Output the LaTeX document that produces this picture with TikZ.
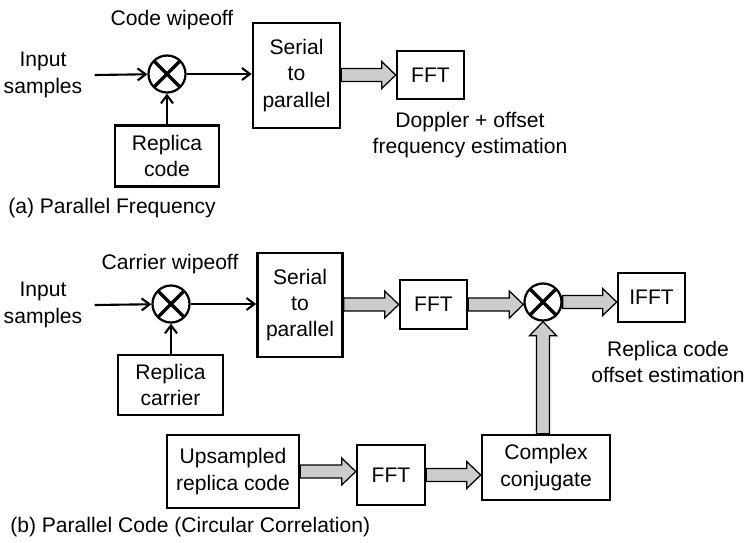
\documentclass[tikz,border=0pt]{standalone}
\usepackage{fontspec}
\setmainfont{Liberation Sans}
\usetikzlibrary{arrows.meta,calc}
\definecolor{fatgray}{RGB}{204,204,204}

\tikzset{
  fat/.style={draw, line width=0.9pt, fill=fatgray, line join=miter,
    to path={let \p1=(\tikztostart), \p2=(\tikztotarget),
      \n1={veclen(\x2-\x1,\y2-\y1)}, \n2={(\x2-\x1)/\n1}, \n3={(\y2-\y1)/\n1} in
      ({\x1-4.6*\n3},{\y1+4.6*\n2}) -- ({\x2-10*\n2-4.6*\n3},{\y2-10*\n3+4.6*\n2})
      -- ({\x2-10*\n2-9.6*\n3},{\y2-10*\n3+9.6*\n2}) -- (\p2)
      -- ({\x2-10*\n2+9.6*\n3},{\y2-10*\n3-9.6*\n2})
      -- ({\x2-10*\n2+4.6*\n3},{\y2-10*\n3-4.6*\n2})
      -- ({\x1+4.6*\n3},{\y1-4.6*\n2}) -- cycle}}
}

\begin{document}
\begin{tikzpicture}[x=0.025cm, y=-0.025cm,
   font=\fontsize{15}{18.8}\selectfont,
   blk/.style={draw, line width=1.8pt, align=center, inner sep=0pt},
   mix/.style={circle, draw, line width=1.6pt, minimum size=0.925cm, inner sep=0pt,
     path picture={\draw[line width=2.4pt]
       (path picture bounding box.north west) -- (path picture bounding box.south east)
       (path picture bounding box.north east) -- (path picture bounding box.south west);}},
   sig/.style={line width=1.5pt, -{Straight Barb[length=2mm, width=3mm]}},
   lbl/.style={align=center, inner sep=0pt}]
\useasboundingbox (0,0) rectangle (747,542);
% (a) parallel frequency search
\node[lbl] (cw) at (172,20) {Code wipeoff};
\node[lbl, inner xsep=0.3cm] (in1) at (43,75) {Input\\samples};
\node[mix] (mx1) at (167,74) {};
\node[blk, minimum width=2.6cm, minimum height=1.525cm] (rc1) at (167,156) {Replica\\code};
\node[blk, minimum width=2.175cm, minimum height=2.625cm] (sp1) at (296.5,75.5) {Serial\\to\\parallel};
\node[blk, minimum width=1.675cm, minimum height=1.2cm] (ff1) at (430.5,75) {FFT};
\node[lbl] (dop) at (470,135) {Doppler + offset\\frequency estimation};
\node[lbl, anchor=west] (capA) at (8,208) {(a) Parallel Frequency};
\draw[sig] (in1.east) -- (mx1);
\draw[sig] (rc1.north) -- (mx1.south);
\draw[sig] (mx1) -- (mx1 -| sp1.west);
\draw[fat] (sp1.east |- ff1.west) to (ff1.west);
% (b) parallel code search
\node[lbl] (crw) at (170,264) {Carrier wipeoff};
\node[lbl, inner xsep=0.3cm] (in2) at (43,305) {Input\\samples};
\node[mix] (mx2) at (171,304) {};
\node[blk, minimum width=2.625cm, minimum height=1.5cm] (rc2) at (170.5,385) {Replica\\carrier};
\node[blk, minimum width=2.125cm, minimum height=2.6cm] (sp2) at (300,305) {Serial\\to\\parallel};
\node[blk, minimum width=1.675cm, minimum height=1.225cm] (ff2) at (433.5,304.5) {FFT};
\node[mix] (mx3) at (543,302) {};
\node[blk, minimum width=1.675cm, minimum height=1.225cm] (ifft) at (651.5,297.5) {IFFT};
\node[lbl] (rco) at (668,362) {Replica code\\offset estimation};
\node[blk, minimum width=3.3cm, minimum height=1.825cm] (up) at (233,471.5) {Upsampled\\replica code};
\node[blk, minimum width=1.7cm, minimum height=1.5cm] (ff3) at (391,475) {FFT};
\node[blk, minimum width=3.2cm, minimum height=1.625cm] (cc) at (546,467.5) {Complex\\conjugate};
\node[lbl, anchor=west] (capB) at (10,527) {(b) Parallel Code (Circular Correlation)};
\draw[sig] (in2.east) -- (mx2);
\draw[sig] (mx2.south |- rc2.north) -- (mx2.south);
\draw[sig] (mx2) -- (mx2 -| sp2.west);
\draw[fat] (sp2.east |- ff2.west) to (ff2.west);
\draw[fat] (ff2.east) to (ff2.east -| mx3.west);
\draw[fat] (mx3.east) to (mx3.east -| ifft.west);
\draw[fat] (mx3.south |- cc.north) to (mx3.south);
\draw[fat] (up.east) to (up.east -| ff3.west);
\draw[fat] (ff3.east) to (ff3.east -| cc.west);
\end{tikzpicture}
\end{document}
